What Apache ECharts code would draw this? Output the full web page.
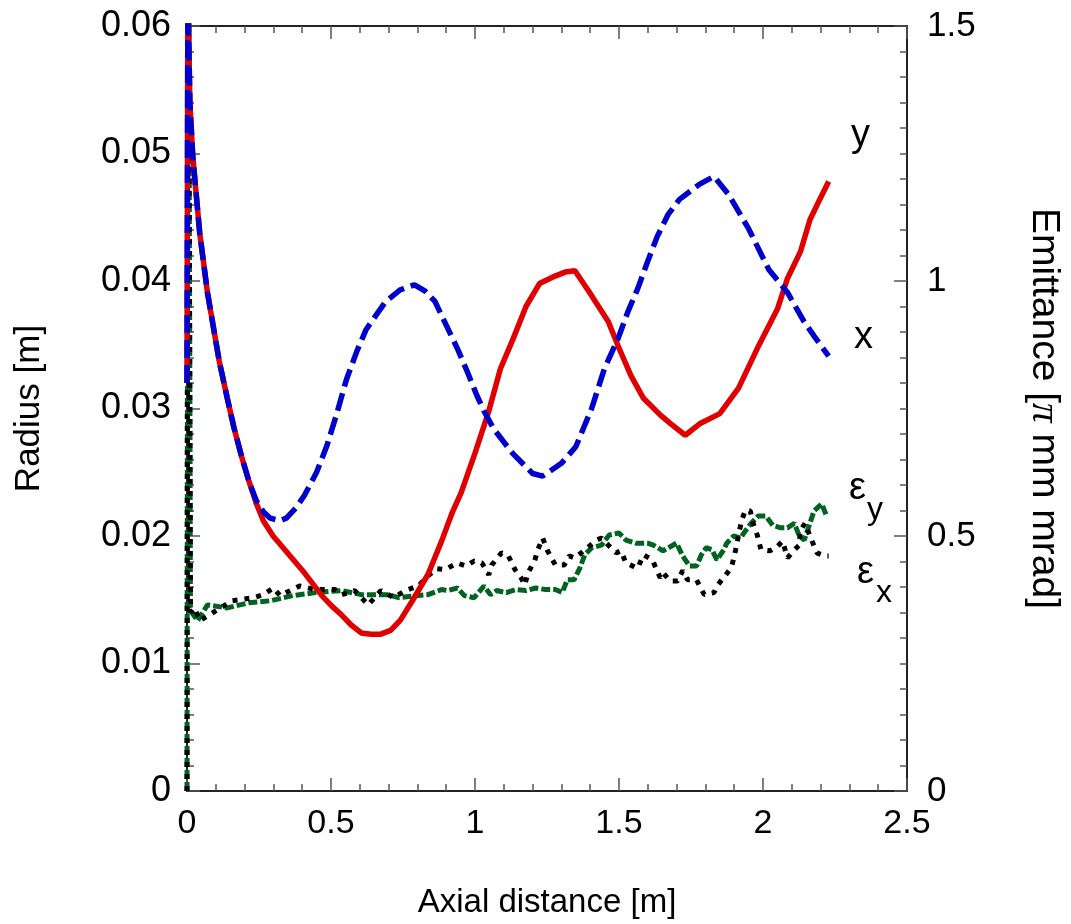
<!DOCTYPE html>
<html>
<head>
<meta charset="utf-8">
<script src="https://cdn.jsdelivr.net/npm/echarts@6/dist/echarts.min.js"></script>
<style>
html,body{margin:0;padding:0;background:#fff;}
#chart{width:1071px;height:924px;}
</style>
</head>
<body>
<div id="chart"></div>
<script>
// ---- data ----
const xTicks = [0, 0.5, 1, 1.5, 2, 2.5];
const radiusTicks = [0, 0.01, 0.02, 0.03, 0.04, 0.05, 0.06];
const emitTicks = [0, 0.5, 1, 1.5];

// radius y [m] vs axial distance [m]
const radiusY = [
  [0,0.032],[0.003,0.063],[0.01,0.054],[0.02,0.0498],[0.044,0.0438],[0.071,0.0391],
  [0.112,0.0337],[0.14,0.0308],[0.163,0.0285],[0.19,0.0262],[0.215,0.0243],[0.24,0.0226],
  [0.265,0.0212],[0.299,0.0200],[0.333,0.0191],
  [0.367,0.0182],[0.401,0.0173],[0.435,0.0163],[0.469,0.0153],[0.503,0.0145],[0.537,0.0138],
  [0.571,0.0130],[0.605,0.0124],[0.639,0.0123],[0.673,0.0123],[0.707,0.0126],[0.741,0.0134],
  [0.782,0.0149],[0.837,0.0170],[0.884,0.0196],[0.922,0.0219],[0.952,0.0234],[1.0,0.0265],
  [1.048,0.0298],[1.088,0.0331],[1.133,0.0355],[1.177,0.0380],[1.224,0.0398],[1.269,0.0403],
  [1.313,0.0407],[1.347,0.0408],[1.395,0.0392],[1.429,0.0380],[1.463,0.0368],[1.497,0.0349],
  [1.541,0.0326],[1.585,0.0308],[1.643,0.0295],[1.68,0.0288],[1.73,0.0279],[1.78,0.0288],
  [1.85,0.0296],[1.915,0.0316],[1.98,0.0347],[2.05,0.0378],[2.085,0.0402],[2.13,0.0423],
  [2.163,0.0448],[2.197,0.0464],[2.228,0.0478]
];
// radius x [m]
const radiusX = [
  [0,0.032],[0.003,0.063],[0.01,0.054],[0.02,0.0498],[0.044,0.0438],[0.071,0.0391],
  [0.112,0.0337],[0.14,0.0308],[0.163,0.0285],[0.19,0.0262],[0.215,0.0243],[0.24,0.0228],
  [0.265,0.0219],[0.289,0.0214],[0.323,0.0212],[0.345,0.0214],[0.378,0.0222],[0.408,0.0232],
  [0.45,0.0250],[0.486,0.0271],
  [0.52,0.0296],[0.554,0.0323],[0.59,0.0345],[0.622,0.0362],[0.69,0.0384],[0.74,0.0393],
  [0.79,0.0397],[0.827,0.0392],[0.861,0.0384],[0.905,0.0363],[0.939,0.0347],[0.973,0.0329],
  [1.007,0.0310],[1.031,0.0298],[1.065,0.0284],[1.13,0.0265],[1.2,0.0249],[1.235,0.0247],
  [1.30,0.0257],[1.35,0.0270],[1.405,0.0300],[1.449,0.0331],[1.497,0.0355],[1.531,0.0376],
  [1.565,0.0394],[1.599,0.0415],[1.633,0.0435],[1.67,0.0452],[1.71,0.0464],[1.78,0.0476],
  [1.83,0.0482],[1.88,0.0468],[1.95,0.0441],[2.02,0.0409],[2.085,0.0391],[2.143,0.0368],
  [2.177,0.0357],[2.228,0.0341]
];
// emittance x [pi mm mrad]
const emitX = [
  [0,0],[0.003,2.0],[0.012,0.35],[0.027,0.359],[0.044,0.334],[0.10,0.353],[0.156,0.373],
  [0.231,0.379],[0.265,0.385],[0.30,0.398],[0.323,0.383],[0.391,0.402],[0.446,0.395],
  [0.514,0.395],[0.537,0.385],[0.582,0.393],[0.629,0.365],[0.673,0.393],[0.718,0.379],
  [0.758,0.393],[0.803,0.402],[0.837,0.422],[0.867,0.436],[0.895,0.434],[0.939,0.447],
  [0.969,0.441],[0.997,0.451],[1.024,0.447],[1.048,0.424],[1.058,0.443],[1.092,0.467],
  [1.116,0.461],[1.139,0.434],[1.16,0.418],[1.173,0.404],[1.184,0.428],[1.207,0.451],
  [1.218,0.473],[1.235,0.496],[1.252,0.471],[1.279,0.443],[1.31,0.443],[1.327,0.461],
  [1.347,0.457],[1.378,0.471],[1.422,0.492],[1.439,0.496],[1.463,0.482],[1.49,0.467],
  [1.507,0.471],[1.524,0.447],[1.548,0.441],[1.565,0.437],[1.585,0.463],[1.616,0.453],
  [1.643,0.418],[1.653,0.428],[1.677,0.412],[1.704,0.412],[1.721,0.432],[1.738,0.414],
  [1.769,0.414],[1.796,0.385],[1.83,0.389],[1.84,0.402],[1.871,0.424],[1.891,0.439],
  [1.905,0.473],[1.925,0.529],[1.939,0.551],[1.956,0.549],[1.963,0.529],[1.98,0.502],
  [1.993,0.473],[2.024,0.471],[2.051,0.48],[2.068,0.49],[2.085,0.457],[2.109,0.473],
  [2.126,0.482],[2.129,0.51],[2.146,0.525],[2.163,0.5],[2.187,0.467],[2.214,0.461],[2.228,0.461]
];
// emittance y [pi mm mrad]
const emitY = [
  [0,0],[0.004,2.0],[0.012,0.36],[0.017,0.35],[0.037,0.334],[0.071,0.365],[0.139,0.359],
  [0.214,0.369],[0.289,0.373],[0.367,0.383],[0.446,0.389],[0.537,0.393],[0.605,0.385],
  [0.697,0.385],[0.735,0.379],[0.793,0.383],[0.837,0.385],[0.884,0.395],[0.905,0.393],
  [0.939,0.398],[0.963,0.383],[0.997,0.379],[1.031,0.402],[1.054,0.385],[1.075,0.393],
  [1.109,0.389],[1.143,0.395],[1.177,0.393],[1.211,0.398],[1.245,0.395],[1.279,0.395],
  [1.303,0.389],[1.32,0.414],[1.344,0.414],[1.364,0.437],[1.381,0.463],[1.405,0.477],
  [1.439,0.482],[1.466,0.502],[1.50,0.506],[1.524,0.492],[1.558,0.486],[1.599,0.486],
  [1.619,0.482],[1.653,0.471],[1.70,0.486],[1.721,0.461],[1.745,0.441],[1.769,0.441],
  [1.786,0.463],[1.803,0.477],[1.823,0.473],[1.84,0.453],[1.864,0.473],[1.874,0.486],
  [1.898,0.5],[1.922,0.496],[1.939,0.51],[1.959,0.525],[1.983,0.539],[2.01,0.539],
  [2.034,0.521],[2.061,0.516],[2.085,0.516],[2.109,0.525],[2.126,0.5],[2.143,0.492],
  [2.16,0.52],[2.177,0.549],[2.204,0.563],[2.221,0.539]
];

const FONT = 'Liberation Sans, Arial, sans-serif';
const chart = echarts.init(document.getElementById('chart'), null, {renderer: 'canvas'});

const lineCol = '#222';
const tickCol = '#555';
function baseAxis(extra) {
  return Object.assign({
    type: 'value',
    axisLine: {show: true, onZero: false, lineStyle: {color: lineCol, width: 2}},
    axisTick: {show: true, inside: true, length: 13, lineStyle: {color: tickCol, width: 1.5}},
    minorTick: {show: true, length: 7, lineStyle: {color: tickCol, width: 1.5}},
    splitLine: {show: false},
    minorSplitLine: {show: false},
    axisLabel: {color: '#000', fontFamily: FONT, fontSize: 34},
    nameTextStyle: {color: '#000', fontFamily: FONT, fontSize: 32}
  }, extra);
}

const option = {
  animation: false,
  backgroundColor: '#fff',
  grid: {left: 187, right: 154, top: 26, bottom: 130, containLabel: false},
  xAxis: [
    baseAxis({
      position: 'bottom', min: xTicks[0], max: xTicks[xTicks.length - 1], interval: 0.5,
      minorTick: {show: true, splitNumber: 5, length: 7, lineStyle: {color: tickCol, width: 1.5}},
      axisLabel: {color: '#000', fontFamily: FONT, fontSize: 34, margin: 16},
      name: 'Axial distance [m]', nameLocation: 'middle', nameGap: 95,
      nameTextStyle: {color: '#000', fontFamily: FONT, fontSize: 33}
    }),
    baseAxis({
      position: 'top', min: xTicks[0], max: xTicks[xTicks.length - 1], interval: 0.5,
      minorTick: {show: true, splitNumber: 5, length: 7, lineStyle: {color: tickCol, width: 1.5}},
      axisLabel: {show: false}
    })
  ],
  yAxis: [
    baseAxis({
      position: 'left', min: radiusTicks[0], max: radiusTicks[radiusTicks.length - 1], interval: 0.01,
      minorTick: {show: true, splitNumber: 5, length: 7, lineStyle: {color: tickCol, width: 1.5}},
      axisLabel: {color: '#000', fontFamily: FONT, fontSize: 36, margin: 16},
      name: 'Radius [m]', nameLocation: 'middle', nameRotate: 90, nameGap: 140,
      nameTextStyle: {color: '#000', fontFamily: FONT, fontSize: 35}
    }),
    baseAxis({
      position: 'right', min: emitTicks[0], max: emitTicks[emitTicks.length - 1], interval: 0.5,
      minorTick: {show: true, splitNumber: 10, length: 7, lineStyle: {color: tickCol, width: 1.5}},
      axisLabel: {color: '#000', fontFamily: FONT, fontSize: 35, margin: 20},
      name: 'Emittance [{pi|π} mm mrad]', nameLocation: 'middle', nameRotate: -90, nameGap: 117,
      nameTextStyle: {color: '#000', fontFamily: FONT, fontSize: 39,
        rich: {pi: {fontFamily: 'Liberation Serif, serif', fontStyle: 'italic', fontSize: 39, color: '#000'}}}
    })
  ],
  series: [
    {
      name: 'emit y', type: 'line', xAxisIndex: 0, yAxisIndex: 1, data: emitY,
      showSymbol: false, smooth: false, clip: true,
      lineStyle: {color: '#006420', width: 5, type: [9, 3], cap: 'butt'}, z: 2
    },
    {
      name: 'emit x', type: 'line', xAxisIndex: 0, yAxisIndex: 1, data: emitX,
      showSymbol: false, smooth: false, clip: true,
      lineStyle: {color: '#000000', width: 5, type: [5, 7], cap: 'butt'}, z: 3
    },
    {
      name: 'radius y', type: 'line', xAxisIndex: 0, yAxisIndex: 0, data: radiusY,
      showSymbol: false, smooth: false, clip: true,
      lineStyle: {color: '#e00000', width: 5.5}, z: 4
    },
    {
      name: 'radius x', type: 'line', xAxisIndex: 0, yAxisIndex: 0, data: radiusX,
      showSymbol: false, smooth: false, clip: true,
      lineStyle: {color: '#0000cc', width: 5.5, type: [18, 7], cap: 'butt'}, z: 5
    }
  ],
  graphic: [
    {type: 'text', left: 851, top: 117, style: {text: 'y', font: '38px ' + FONT, fill: '#000'}},
    {type: 'text', left: 854, top: 319, style: {text: 'x', font: '38px ' + FONT, fill: '#000'}},
    {type: 'text', left: 849, top: 470, style: {text: 'ε', font: '38px ' + FONT, fill: '#000'}},
    {type: 'text', left: 867, top: 494, style: {text: 'y', font: '32px ' + FONT, fill: '#000'}},
    {type: 'text', left: 857, top: 554, style: {text: 'ε', font: '38px ' + FONT, fill: '#000'}},
    {type: 'text', left: 876, top: 577, style: {text: 'x', font: '32px ' + FONT, fill: '#000'}}
  ]
};
chart.setOption(option);
</script>
</body>
</html>
